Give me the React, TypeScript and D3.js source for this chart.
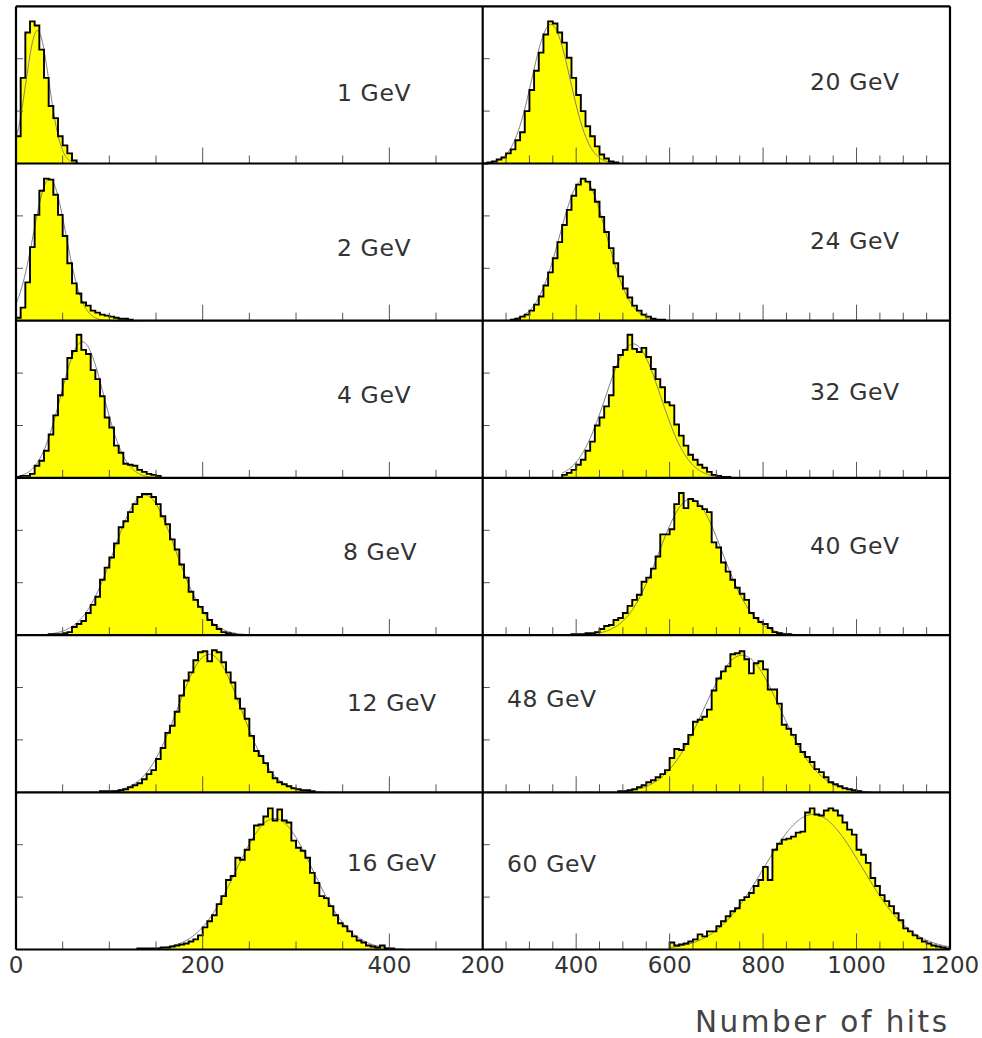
import React from "react";
import * as d3 from "d3";

// ---------- data ----------
const energyLabels = ["1 GeV", "2 GeV", "4 GeV", "8 GeV", "12 GeV", "16 GeV", "20 GeV", "24 GeV", "32 GeV", "40 GeV", "48 GeV", "60 GeV"];

// first bin lower edge (number of hits) and bin width for each histogram
const binStarts = [0, 0, 0, 35, 90, 130, 200, 260, 370, 390, 490, 600];
const binWidths = [5, 5, 5, 5, 5, 5, 10, 10, 10, 10, 10, 10];

const counts1 = [27, 85, 130, 141, 137, 113, 85, 57, 45, 27, 18, 10, 3];
const counts2 = [3, 13, 38, 73, 105, 129, 141, 140, 125, 105, 84, 57, 37, 27, 18, 15, 10, 8, 6, 5, 4, 3, 2, 2, 1];
const counts4 = [1, 2, 2, 4, 12, 17, 27, 43, 62, 82, 98, 119, 126, 142, 127, 123, 107, 98, 81, 60, 50, 32, 25, 14, 13, 12, 8, 6, 4, 3, 2];
const counts8 = [1, 1, 1, 2, 3, 8, 11, 14, 22, 30, 38, 55, 67, 77, 91, 107, 113, 122, 130, 137, 140, 140, 137, 130, 118, 110, 95, 85, 70, 57, 43, 35, 28, 22, 15, 10, 6, 3, 2, 1];
const counts12 = [1, 1, 1, 1, 2, 3, 5, 7, 9, 13, 18, 22, 33, 44, 59, 66, 80, 96, 111, 119, 131, 139, 140, 130, 141, 139, 129, 119, 109, 93, 83, 73, 56, 41, 36, 29, 20, 14, 10, 8, 6, 4, 3, 2, 2, 1];
const counts16 = [1, 1, 1, 1, 1, 2, 2, 3, 4, 5, 6, 8, 10, 14, 22, 28, 34, 45, 53, 69, 73, 91, 89, 99, 109, 123, 124, 132, 140, 128, 139, 128, 126, 108, 101, 98, 91, 76, 66, 53, 51, 43, 34, 26, 23, 18, 13, 9, 7, 4, 3, 2, 4, 1, 1];
const counts20 = [0, 1, 2, 4, 6, 10, 14, 23, 31, 52, 73, 92, 110, 128, 141, 139, 130, 120, 105, 85, 68, 52, 37, 27, 17, 9, 5, 2, 1];
const counts24 = [1, 2, 4, 6, 10, 16, 24, 35, 48, 62, 78, 95, 110, 124, 135, 141, 138, 130, 118, 103, 88, 72, 57, 44, 32, 23, 15, 10, 6, 4, 2, 1, 1];
const counts32 = [3, 5, 8, 13, 18, 27, 36, 52, 60, 71, 82, 110, 122, 127, 142, 128, 125, 129, 120, 108, 98, 90, 75, 72, 53, 42, 32, 23, 18, 13, 10, 6, 3, 2, 1, 1];
const counts40 = [1, 1, 1, 2, 2, 3, 6, 9, 10, 15, 17, 22, 29, 35, 40, 53, 57, 66, 78, 100, 100, 105, 130, 141, 126, 135, 133, 128, 125, 122, 92, 87, 72, 63, 55, 47, 41, 35, 22, 17, 13, 11, 7, 3, 2, 1, 1];
const counts48 = [1, 1, 2, 3, 5, 7, 10, 12, 15, 18, 22, 34, 43, 42, 48, 57, 70, 72, 75, 82, 101, 113, 120, 125, 137, 138, 140, 132, 118, 128, 130, 122, 102, 102, 88, 67, 63, 57, 48, 40, 35, 30, 23, 20, 15, 10, 8, 6, 4, 3, 2, 1];
const counts60 = [7, 4, 5, 6, 8, 10, 15, 13, 18, 18, 23, 28, 33, 38, 41, 49, 52, 56, 63, 69, 82, 69, 99, 105, 109, 110, 112, 116, 117, 136, 140, 134, 133, 138, 140, 138, 133, 126, 119, 114, 99, 94, 86, 71, 63, 54, 48, 43, 36, 29, 21, 18, 14, 11, 8, 6, 4, 3, 2, 1];

const allCounts = [counts1, counts2, counts4, counts8, counts12, counts16, counts20, counts24, counts32, counts40, counts48, counts60];

// Gaussian fit parameters (mean, sigma, amplitude) for each histogram
const fitMean = [23, 36, 71, 138, 207, 277, 346, 415, 522, 645, 755, 907];
const fitSigma = [12.5, 17.5, 23, 33, 34, 41, 41, 50, 59, 68, 82, 105];
const fitAmp = [132, 141, 135, 139, 137, 130, 138, 140, 133, 135, 136, 134];

const leftDomain = [0, 500];
const rightDomain = [200, 1200];
const leftTickLabels = [0, 200, 400];
const rightTickLabels = [200, 400, 600, 800, 1000, 1200];
const yDomainMax = 156;
const yTickValues = [52, 104];
const axisTitle = "Number of hits";

// ---------- layout ----------
const W = 982;
const H = 1038;
const X0 = 16;
const XM = 482.7;
const X1 = 950;
const Y0 = 6.3;
const ROWH = 157.2;
const labelPos: [number, number][] = [
  [337, 101], [337, 256], [337, 403], [343, 560], [347, 711], [347, 871],
  [810, 90], [810, 249], [810, 400], [810, 554], [507, 707], [507, 872],
];
const FONT = "'DejaVu Sans', sans-serif";

function Panel({ idx }: { idx: number }) {
  const col = idx < 6 ? 0 : 1;
  const row = idx % 6;
  const top = Y0 + row * ROWH;
  const bottom = top + ROWH;
  const x = col === 0
    ? d3.scaleLinear().domain(leftDomain).range([X0, XM])
    : d3.scaleLinear().domain(rightDomain).range([XM, X1]);
  const y = d3.scaleLinear().domain([0, yDomainMax]).range([bottom, top]);
  const counts = allCounts[idx];
  const start = binStarts[idx];
  const bw = binWidths[idx];
  const end = start + counts.length * bw;

  const pts: [number, number][] = [[start, 0]];
  counts.forEach((c, i) => {
    pts.push([start + i * bw, c]);
    pts.push([start + (i + 1) * bw, c]);
  });
  pts.push([end, 0]);

  const line = d3.line<[number, number]>().x((d) => x(d[0])).y((d) => y(d[1]));
  const area = d3.area<[number, number]>().x((d) => x(d[0])).y0(y(0)).y1((d) => y(d[1]));

  const m = fitMean[idx], s = fitSigma[idx], a = fitAmp[idx];
  const [dMin, dMax] = x.domain();
  const f0 = Math.max(dMin, start);
  const f1 = Math.min(dMax, end + 2 * bw);
  const fitPts: [number, number][] = d3.range(f0, f1 + 0.001, (f1 - f0) / 300).map((v) => [v, a * Math.exp(-0.5 * ((v - m) / s) ** 2)]);

  const ticks = d3.range(dMin + 50, dMax, 50);
  const xl = col === 0 ? X0 : XM;

  return (
    <g>
      <path d={area(pts) || ""} fill="#ffff00" stroke="none" />
      <path d={line(fitPts) || ""} fill="none" stroke="#7a7a7a" strokeWidth={1} />
      <path d={line(pts) || ""} fill="none" stroke="#000" strokeWidth={1.9} strokeLinejoin="miter" />
      {ticks.map((t) => (
        <line key={t} x1={x(t)} x2={x(t)} y1={bottom} y2={bottom - (t % 200 === 0 ? 16 : 8)} stroke="#555" strokeWidth={1} />
      ))}
      {yTickValues.map((t) => (
        <line key={"y" + t} x1={xl} x2={xl + 7} y1={y(t)} y2={y(t)} stroke="#555" strokeWidth={1} />
      ))}
      <text x={labelPos[idx][0]} y={labelPos[idx][1]} fontFamily={FONT} fontSize={23.5} fill="#333" letterSpacing={0.6}>
        {energyLabels[idx]}
      </text>
    </g>
  );
}

export default function App() {
  const xLeft = d3.scaleLinear().domain(leftDomain).range([X0, XM]);
  const xRight = d3.scaleLinear().domain(rightDomain).range([XM, X1]);
  const bottomY = Y0 + 6 * ROWH;
  return (
    <svg width={W} height={H} style={{ position: "absolute", left: 0, top: 0, background: "#fff" }}>
      <rect x={0} y={0} width={W} height={H} fill="#fff" />
      {energyLabels.map((_, i) => <Panel key={i} idx={i} />)}
      {/* frames */}
      {d3.range(7).map((r) => (
        <line key={"h" + r} x1={X0} x2={X1} y1={Y0 + r * ROWH} y2={Y0 + r * ROWH} stroke="#000" strokeWidth={2.2} />
      ))}
      {[X0, XM, X1].map((xv) => (
        <line key={"v" + xv} x1={xv} x2={xv} y1={Y0} y2={bottomY} stroke="#000" strokeWidth={2.2} />
      ))}
      {leftTickLabels.map((t) => (
        <text key={"l" + t} x={xLeft(t)} y={973} textAnchor="middle" fontFamily={FONT} fontSize={23} fill="#333">{t}</text>
      ))}
      {rightTickLabels.map((t) => (
        <text key={"r" + t} x={xRight(t)} y={973} textAnchor="middle" fontFamily={FONT} fontSize={23} fill="#333">{t}</text>
      ))}
      <text x={695} y={1032} fontFamily={FONT} fontSize={29.5} fill="#444" textLength={252} lengthAdjust="spacing">{axisTitle}</text>
    </svg>
  );
}
